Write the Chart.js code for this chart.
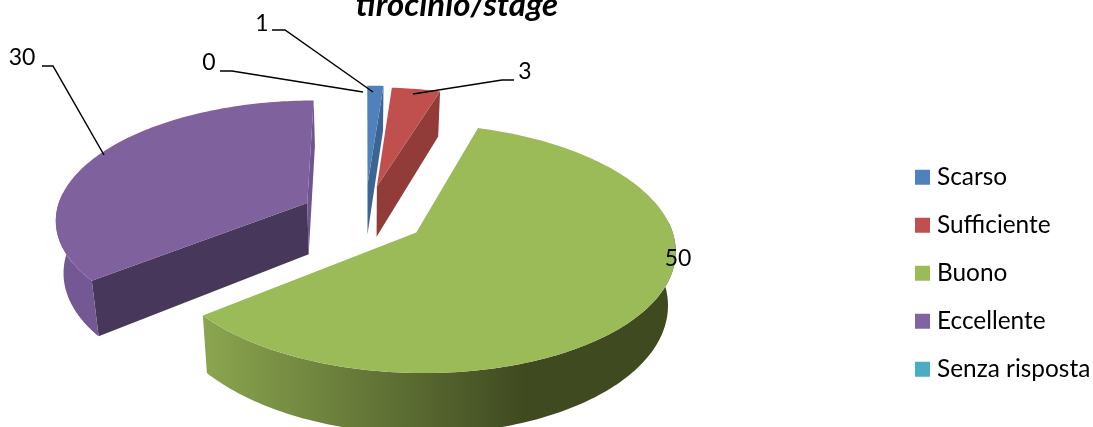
<!DOCTYPE html>
<html><head><meta charset="utf-8">
<style>html,body{margin:0;padding:0;background:#fff;overflow:hidden}canvas{display:block}</style>
<script src="https://cdn.jsdelivr.net/npm/chart.js@4"></script></head>
<body><canvas id="c" width="1093" height="427"></canvas>
<script>
const categories = ['Scarso','Sufficiente','Buono','Eccellente','Senza risposta'];
const values = [1,3,50,30,0];
const colors = ['#4f81bd','#c0504d','#9bbb59','#8064a2','#4bacc6'];
const explode = [70,66,61,65,0];
const titleText = 'tirocinio/stage';

// view model for the 3D look
const KY=0.47, PERSP=0.0005, DEPTH=52, SHRINK=0.975;
const cutStart = [null,null,null,'#47375a',null];
const cutEnd   = ['#3d6594','#913c39',null,'#6f5590',null];
const topFill  = ['#4f81bd','#c0504d','#9bbb59','#7f619d','#4bacc6'];
// label anchors: [text x, text y, leader points]
const labelPos = [
 [262,24,[[272,30],[285,30],[373,92]]],
 [525,72,[[514,80],[502,80],[413,94]]],
 [678,259,null],
 [22,58,[[42,66],[53,66],[104,155]]],
 [209,63,[[220,71],[232,71],[363,92]]]
];
const fontName='Lato, sans-serif';
const WALL_FROM=85*Math.PI/180, WALL_TO=275*Math.PI/180;

const pie3d = {
 id:'pie3d',
 afterLayout(chart){
  const l=chart.legend; l.left=896.6; l.right=1093; l.top=141.5;
  const t=chart.titleBlock; t.left=0; t.right=914;
 },
 beforeDatasetDraw(chart,args){
  const ctx=chart.ctx, meta=args.meta;
  const order=[0,1,3,2];
  order.forEach(i=>{
   const a=meta.data[i]; if(!values[i]) return;
   const t0=a.startAngle+Math.PI/2, t1=a.endAngle+Math.PI/2, R=a.outerRadius, e=a.options.offset, mid=(t0+t1)/2;
   const ex=e*Math.sin(mid), ev=-e*Math.cos(mid);
   const P=(r,t,z)=>{
    const X=ex+r*Math.sin(t), V=ev-r*Math.cos(t), g=1/(1-PERSP*V), s=z?SHRINK:1;
    return [a.x+X*g*s, a.y+KY*V*g+(z?DEPTH*g:0)];
   };
   const poly=(pts,fill)=>{ctx.beginPath();pts.forEach((p,k)=>k?ctx.lineTo(p[0],p[1]):ctx.moveTo(p[0],p[1]));ctx.closePath();ctx.fillStyle=fill;ctx.fill();};
   const rim=(from,to,z)=>{const n=Math.max(2,Math.ceil((to-from)/0.02));const o=[];for(let k=0;k<=n;k++)o.push(P(R,from+(to-from)*k/n,z));return o;};
   if(cutStart[i]) poly([P(0,t0,0),P(R,t0,0),P(R,t0,1),P(0,t0,1)],cutStart[i]);
   if(cutEnd[i]) poly([P(0,t1,0),P(R,t1,0),P(R,t1,1),P(0,t1,1)],cutEnd[i]);
   const w0=Math.max(t0,WALL_FROM), w1=Math.min(t1,WALL_TO);
   if(w1>w0){
    let wall='#735893';
    if(i===2){
     const g=ctx.createLinearGradient(202,0,677,0);
     g.addColorStop(0,'#8ba64f');g.addColorStop(0.68,'#3f4a20');g.addColorStop(1,'#3f4a20');wall=g;
    }
    poly(rim(w0,w1,0).concat(rim(w0,w1,1).reverse()),wall);
   }
   poly([P(0,t0,0)].concat(rim(t0,t1,0)),topFill[i]);
  });
  return false;
 },
 afterDatasetsDraw(chart){
  const ctx=chart.ctx;
  ctx.save();
  ctx.strokeStyle='#000';ctx.lineWidth=1.5;
  labelPos.forEach(p=>{ if(!p[2])return; ctx.beginPath();p[2].forEach((q,k)=>k?ctx.lineTo(q[0],q[1]):ctx.moveTo(q[0],q[1]));ctx.stroke();});
  ctx.fillStyle='#000';ctx.font='23px '+fontName;ctx.textAlign='center';ctx.textBaseline='middle';
  values.forEach((v,i)=>ctx.fillText(String(v),labelPos[i][0],labelPos[i][1]));
  ctx.restore();
 }
};

new Chart(document.getElementById('c'),{
 type:'pie',
 data:{labels:categories,datasets:[{data:values,backgroundColor:colors,offset:explode,borderWidth:0}]},
 options:{
  responsive:false,animation:false,rotation:0,radius:252,
  layout:{padding:{right:263,bottom:20.6}},
  plugins:{
   tooltip:{enabled:false},
   title:{display:true,text:titleText,color:'#000',padding:{top:-14,bottom:0},font:{family:fontName,size:33,weight:'bold',style:'italic',lineHeight:1.2}},
   legend:{position:'right',align:'start',maxWidth:100,
    labels:{usePointStyle:true,pointStyle:'rect',boxWidth:4.6,boxHeight:15,padding:23.6,color:'#000',font:{family:fontName,size:24.4}}}
  }
 },
 plugins:[pie3d]
});
</script></body></html>
